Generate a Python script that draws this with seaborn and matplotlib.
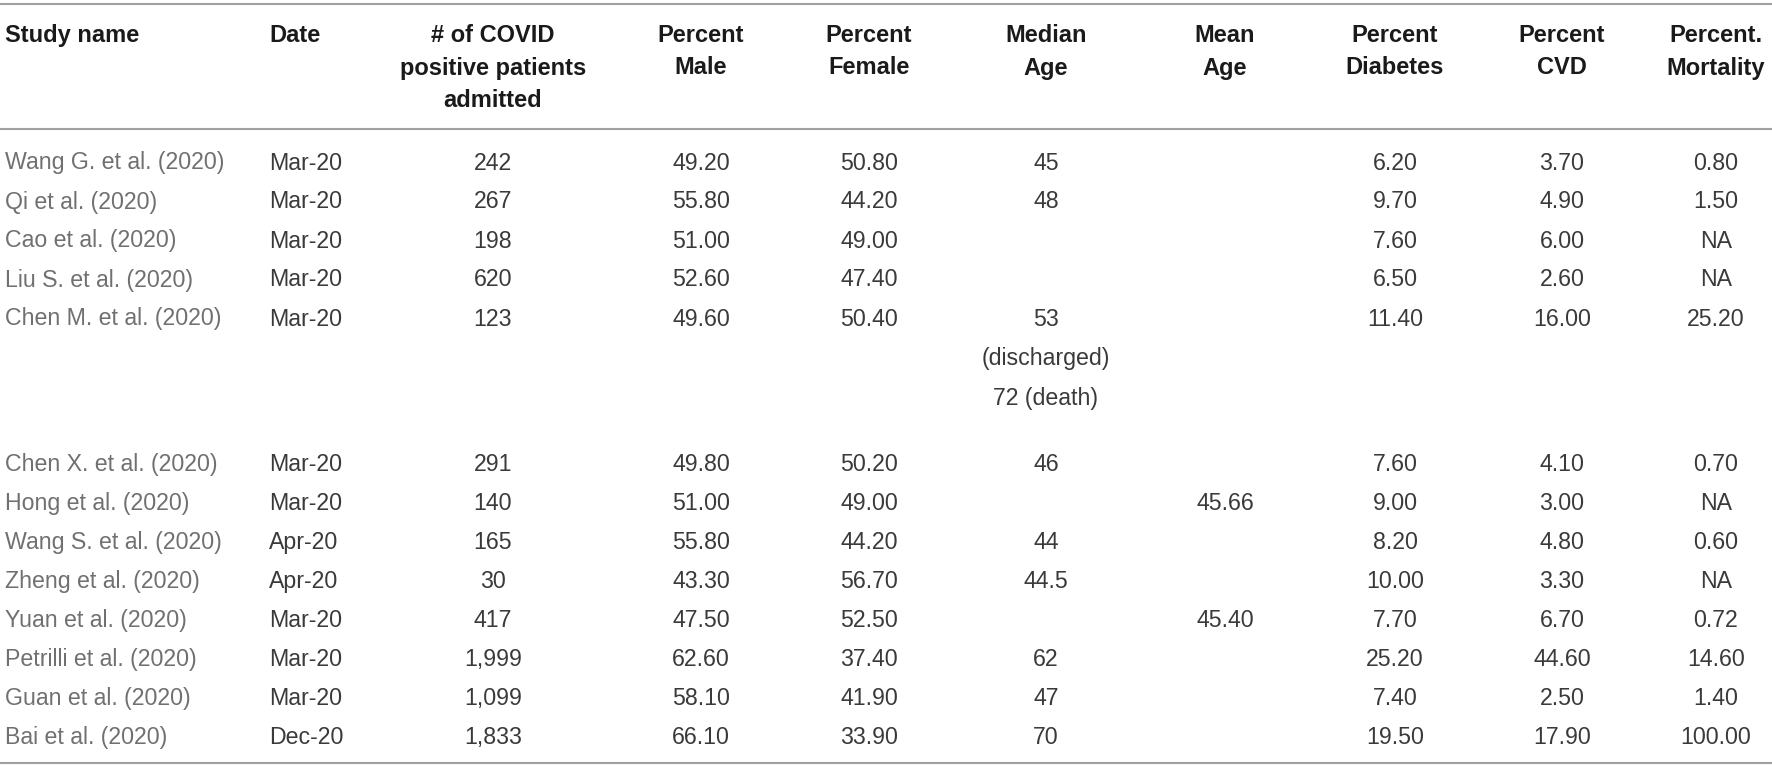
import matplotlib
matplotlib.use("Agg")
import matplotlib.pyplot as plt
import seaborn as sns

# table contents
headers = [
    "Study name", "Date", "# of COVID\npositive patients\nadmitted",
    "Percent\nMale", "Percent\nFemale", "Median\nAge", "Mean\nAge",
    "Percent\nDiabetes", "Percent\nCVD", "Percent.\nMortality",
]
study_names = [
    "Wang G. et al. (2020)", "Qi et al. (2020)", "Cao et al. (2020)",
    "Liu S. et al. (2020)", "Chen M. et al. (2020)", "Chen X. et al. (2020)",
    "Hong et al. (2020)", "Wang S. et al. (2020)", "Zheng et al. (2020)",
    "Yuan et al. (2020)", "Petrilli et al. (2020)", "Guan et al. (2020)",
    "Bai et al. (2020)",
]
dates = ["Mar-20", "Mar-20", "Mar-20", "Mar-20", "Mar-20", "Mar-20", "Mar-20",
         "Apr-20", "Apr-20", "Mar-20", "Mar-20", "Mar-20", "Dec-20"]
n_patients = ["242", "267", "198", "620", "123", "291", "140", "165", "30",
              "417", "1,999", "1,099", "1,833"]
pct_male = ["49.20", "55.80", "51.00", "52.60", "49.60", "49.80", "51.00",
            "55.80", "43.30", "47.50", "62.60", "58.10", "66.10"]
pct_female = ["50.80", "44.20", "49.00", "47.40", "50.40", "50.20", "49.00",
              "44.20", "56.70", "52.50", "37.40", "41.90", "33.90"]
median_age = ["45", "48", "", "", "53\n(discharged)\n72 (death)", "46", "",
              "44", "44.5", "", "62", "47", "70"]
mean_age = ["", "", "", "", "", "", "45.66", "", "", "45.40", "", "", ""]
pct_diabetes = ["6.20", "9.70", "7.60", "6.50", "11.40", "7.60", "9.00",
                "8.20", "10.00", "7.70", "25.20", "7.40", "19.50"]
pct_cvd = ["3.70", "4.90", "6.00", "2.60", "16.00", "4.10", "3.00",
           "4.80", "3.30", "6.70", "44.60", "2.50", "17.90"]
pct_mortality = ["0.80", "1.50", "NA", "NA", "25.20", "0.70", "NA",
                 "0.60", "NA", "0.72", "14.60", "1.40", "100.00"]

columns = [study_names, dates, n_patients, pct_male, pct_female, median_age,
           mean_age, pct_diabetes, pct_cvd, pct_mortality]

# layout (pixels)
W, H = 1772, 769
col_x = [5, 269, 493, 701, 869, 1046, 1225, 1395, 1562, 1716]
col_ha = ["left", "left"] + ["center"] * 8
head_line_h = 32.5
cell_line_h = 39.5
row_pitch = 39.0
tall_row = 145.5
# baseline sits about half a cap height below the visual centre
head_base = 7
body_base = 6.5

sns.set_theme(style="white")
plt.rcParams["font.family"] = ["Liberation Sans", "DejaVu Sans"]

fig = plt.figure(figsize=(W / 100, H / 100), dpi=100)
ax = fig.add_axes([0, 0, 1, 1])
ax.set_xlim(0, W)
ax.set_ylim(H, 0)
ax.axis("off")

rule = dict(color="#a0a0a0", lw=1.5)
ax.axhline(4, **rule)
ax.axhline(129, **rule)
ax.axhline(763, **rule)

# header
for x, ha, text in zip(col_x, col_ha, headers):
    for k, line in enumerate(text.split("\n")):
        ax.text(x, 35 + k * head_line_h + head_base, line, ha=ha,
                va="baseline", fontsize=17, fontweight="bold",
                color="#1a1a1a")

# body
y = 163
for r in range(len(study_names)):
    n_lines = 1
    for c, (x, ha, col) in enumerate(zip(col_x, col_ha, columns)):
        color = "#707070" if c == 0 else "#3a3a3a"
        parts = col[r].split("\n")
        n_lines = max(n_lines, len(parts))
        for k, line in enumerate(parts):
            ax.text(x, y + k * cell_line_h + body_base, line, ha=ha,
                    va="baseline", fontsize=16.7, color=color)
    y += row_pitch if n_lines == 1 else tall_row

fig.savefig("out.png", dpi=100)
plt.close(fig)
